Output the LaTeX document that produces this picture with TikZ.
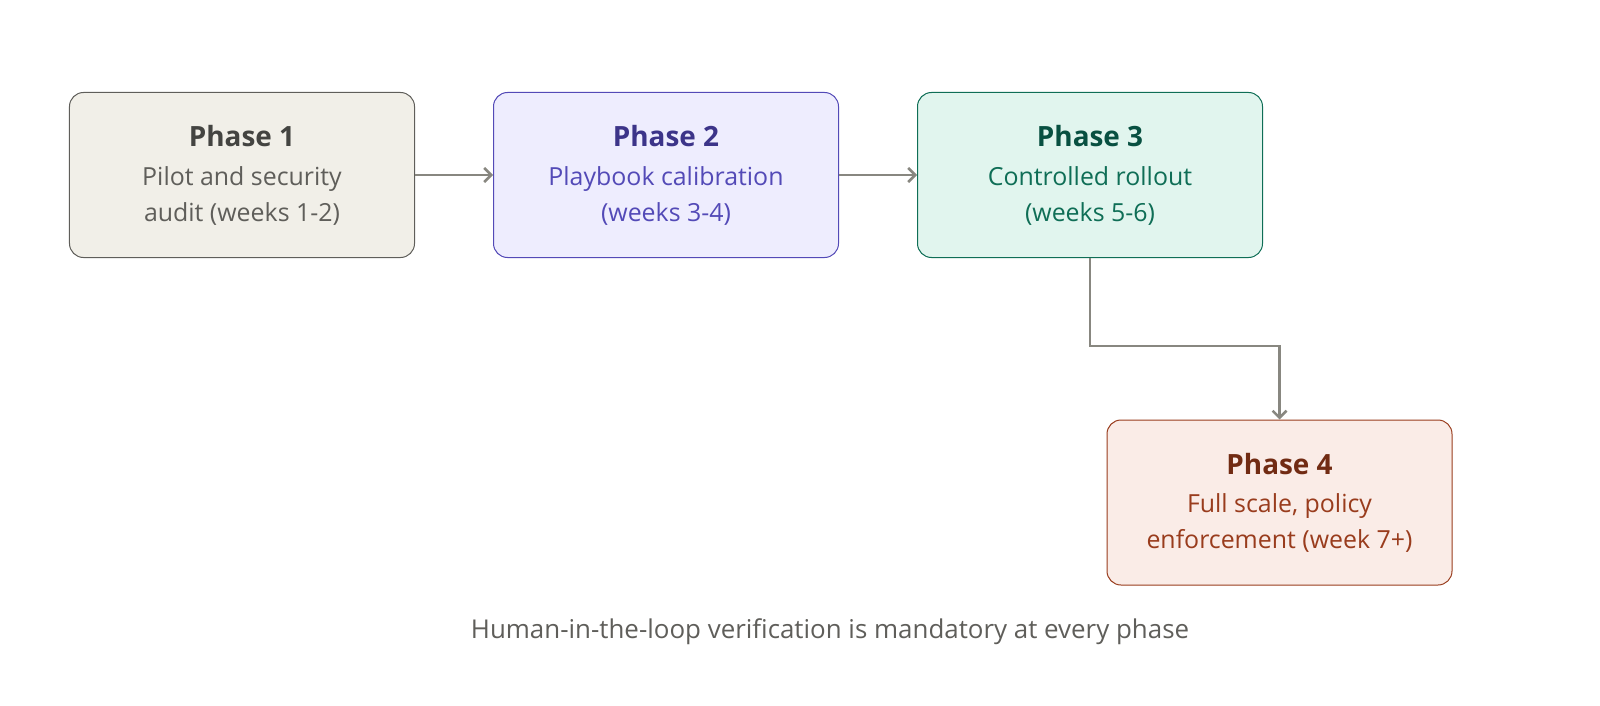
\documentclass[tikz,border=0pt]{standalone}
\usepackage{fontspec}
\setmainfont{Open Sans}
\usetikzlibrary{arrows.meta}
\definecolor{fA}{HTML}{F1EFE8}\definecolor{bA}{HTML}{5F5E5A}\definecolor{tA}{HTML}{444441}
\definecolor{fB}{HTML}{EEEDFE}\definecolor{bB}{HTML}{534AB7}\definecolor{tB}{HTML}{3C3489}
\definecolor{fC}{HTML}{E1F5EE}\definecolor{bC}{HTML}{0F6E56}\definecolor{tC}{HTML}{085041}
\definecolor{fD}{HTML}{FAECE7}\definecolor{bD}{HTML}{993C1D}\definecolor{tD}{HTML}{712B13}
\definecolor{ar}{HTML}{888780}
\begin{document}
\begin{tikzpicture}[x=1bp,y=-1bp,
 box/.style={draw=#1, line width=1bp, rounded corners=14bp, minimum width=345bp, minimum height=165bp, inner sep=0pt},
 ttl/.style={font=\fontsize{28}{32}\selectfont\bfseries, text=#1},
 sub/.style={font=\fontsize{25}{37}\selectfont, text=#1, align=center},
 arr/.style={draw=ar, line width=2.5bp, -{Straight Barb[length=7bp,width=14bp]}}]
\useasboundingbox (0,0) rectangle (1600,706);
\node[box=bA, fill=fA] (p1) at (242,175) {};
\node[box=bB, fill=fB] (p2) at (666,175) {};
\node[box=bC, fill=fC] (p3) at (1090,175) {};
\node[box=bD, fill=fD] (p4) at (1279.5,502.5) {};
\node[ttl=tA] (t1) at (242,136) {Phase 1};
\node[sub=bA] (s1) at (242,196) {Pilot and security\\audit (weeks 1-2)};
\node[ttl=tB] (t2) at (666,136) {Phase 2};
\node[sub=bB] (s2) at (666,196) {Playbook calibration\\(weeks 3-4)};
\node[ttl=tC] (t3) at (1090,136) {Phase 3};
\node[sub=bC] (s3) at (1090,196) {Controlled rollout\\(weeks 5-6)};
\node[ttl=tD] (t4) at (1279.5,464) {Phase 4};
\node[sub=bD] (s4) at (1279.5,523) {Full scale, policy\\enforcement (week 7+)};
\node[font=\fontsize{26}{30}\selectfont, text=bA] (cap) at (830,632) {Human-in-the-loop verification is mandatory at every phase};
\draw[arr] (p1.east) -- (p2.west);
\draw[arr] (p2.east) -- (p3.west);
\coordinate (k1) at (1090,346);
\coordinate (k2) at (1279.5,346);
\draw[arr] (p3.south) -- (k1) -- (k2) -- (p4.north);
\end{tikzpicture}
\end{document}
